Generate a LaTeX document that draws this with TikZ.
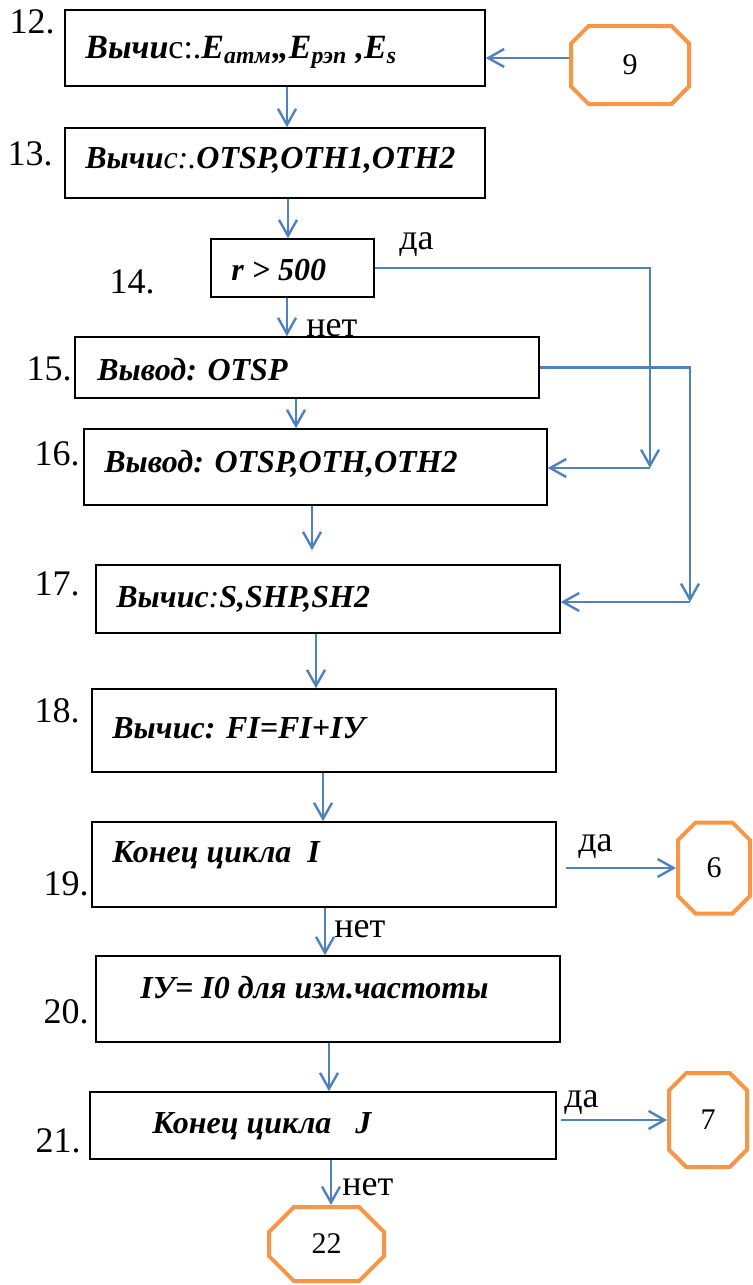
\documentclass[tikz,border=0pt]{standalone}
\usepackage{fontspec}
\setmainfont{Liberation Serif}
\usetikzlibrary{arrows.meta,shapes.misc}
\definecolor{arrblue}{RGB}{79,129,189}
\definecolor{octorange}{RGB}{247,150,70}
% block: name, centre x, centre y, width, height (px)
\def\blok#1#2#3#4#5{\node[blk, minimum width=#4*0.5pt, minimum height=#5*0.5pt] (#1) at (#2,#3) {};}
% connector circle: name, centre x, centre y, width, height, text
\def\okt#1#2#3#4#5#6{\node[oct, minimum width=#4*0.5pt, minimum height=#5*0.5pt,
    chamfered rectangle xsep=#4*0.145pt, chamfered rectangle ysep=#5*0.145pt] (#1) at (#2,#3) {#6};}
% straight arrow down from one block to the next
\def\down#1#2#3{\coordinate (#1d) at ([xshift=#3]#1.south); \draw[arr] (#1d) -- (#1d |- #2.north);}

\begin{document}
\begin{tikzpicture}[x=0.5pt, y=-0.5pt,
    blk/.style={draw=black, line width=0.75pt, rectangle, inner sep=0pt},
    txt/.style={anchor=base west, inner sep=0pt, font=\fontsize{16}{18}\selectfont\bfseries\itshape},
    num/.style={anchor=base east, inner sep=0pt, font=\fontsize{18}{20}\selectfont},
    yn/.style={anchor=base west, inner sep=0pt, font=\fontsize{18}{20}\selectfont},
    oct/.style={draw=octorange, line width=2pt, chamfered rectangle, inner sep=0pt,
        font=\fontsize{15}{17}\selectfont},
    arr/.style={draw=arrblue, line width=1.2pt, -{Straight Barb[length=8pt,width=9pt]}}]
    \useasboundingbox (0,0) rectangle (753,1285);

    \blok{b12}{275}{48}{420}{76}
    \blok{b13}{275}{163}{420}{70}
    \blok{b14}{292.5}{268}{163}{58}
    \blok{b15}{307}{367.5}{464}{61}
    \blok{b16}{315.5}{467}{463}{76}
    \blok{b17}{328}{599}{464}{68}
    \blok{b18}{324}{730.5}{464}{83}
    \blok{b19}{324}{864.5}{464}{85}
    \blok{b20}{328}{999}{464}{86}
    \blok{b21}{323}{1125.5}{466}{67}

    \node[txt, font=\fontsize{17}{19}\selectfont\bfseries\itshape] (t12) at (85,58)
        {Вычи{\mdseries\upshape с:.}E\textsubscript{атм},,E\textsubscript{рэп} ,E\textsubscript{s}};
    \node[txt] (t13) at (85,168) {Вычи{\mdseries с:.}OTSP,OTH1,OTH2};
    \node[txt] (t14) at (231,280) {r > 500};
    \node[txt] (t15) at (97,380) {Вывод: OTSP};
    \node[txt] (t16) at (104,472) {Вывод: OTSP,OTH,OTH2};
    \node[txt] (t17) at (116,607) {Вычис{\mdseries :}S,SHP,SH2};
    \node[txt] (t18) at (112,738) {Вычис: FI=FI+IУ};
    \node[txt] (t19) at (112,862) {Конец цикла\ \ I};
    \node[txt] (t20) at (140,998) {IУ= I0 для изм.частоты};
    \node[txt] (t21) at (152,1133) {Конец цикла\ \ \ J};

    \node[num] (n12) at (55,33) {12.};
    \node[num] (n13) at (53,165) {13.};
    \node[num] (n14) at (155,293) {14.};
    \node[num] (n15) at (72,380) {15.};
    \node[num] (n16) at (80,465) {16.};
    \node[num] (n17) at (80,595) {17.};
    \node[num] (n18) at (80,722) {18.};
    \node[num] (n19) at (89,895) {19.};
    \node[num] (n20) at (89,1023) {20.};
    \node[num] (n21) at (81,1152) {21.};

    \okt{o9}{630}{65}{118}{78}{9}
    \okt{o6}{714}{868}{72}{91}{6}
    \okt{o7}{708}{1120}{78}{94}{7}
    \okt{o22}{326.5}{1244}{115}{74}{22}

    \node[yn] (da14) at (399,249) {да};
    \node[yn] (net14) at (306,336) {нет};
    \node[yn] (da19) at (578,851) {да};
    \node[yn] (net19) at (334,937) {нет};
    \node[yn] (da21) at (564,1107) {да};
    \node[yn] (net21) at (342,1195) {нет};

    % main line
    \coordinate (c9) at ([yshift=3.5pt]o9.west);
    \draw[arr] (c9) -- (c9 -| b12.east);
    \down{b12}{b13}{6pt}
    \down{b13}{b14}{6.5pt}
    \down{b14}{b15}{-2.75pt}
    \down{b15}{b16}{-5.5pt}
    \coordinate (b16d) at ([xshift=-1.75pt]b16.south);
    \draw[arr, shorten >=7pt] (b16d) -- (b16d |- b17.north);
    \down{b17}{b18}{-6pt}
    \down{b18}{b19}{-0.5pt}
    \down{b19}{b20}{0.5pt}
    \down{b20}{b21}{0.5pt}
    \down{b21}{o22}{4pt}

    % side branches
    \coordinate (k14) at (650,468);
    \draw[arr] (b14.east) -| (k14);
    \draw[arr] (k14) -- (k14 -| b16.east);
    \coordinate (k15) at (690,602);
    \draw[arr] (b15.east) -| (k15);
    \draw[arr] (k15) -- (k15 -| b17.east);
    \draw[arr, shorten <=4.5pt] (b19.east |- o6.west) -- (o6.west);
    \draw[arr, shorten <=2pt] (b21.east |- o7.west) -- (o7.west);
\end{tikzpicture}
\end{document}
